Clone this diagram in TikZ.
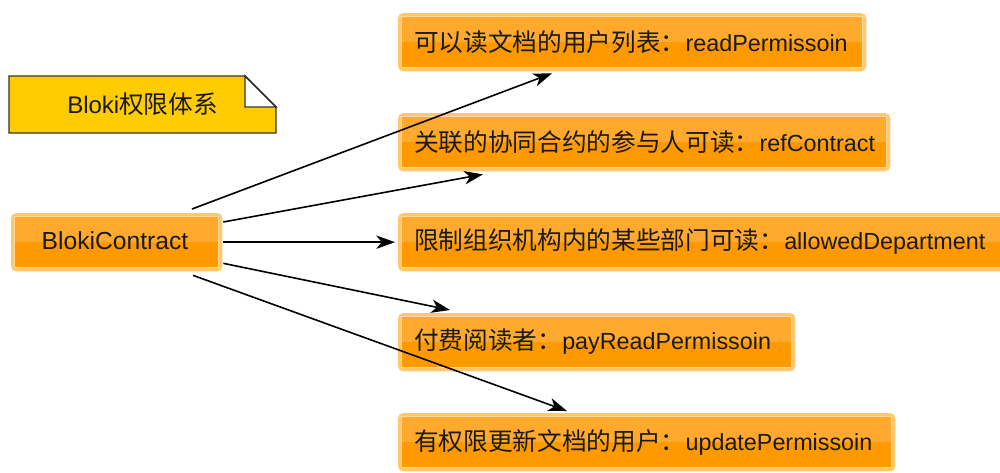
\documentclass[tikz,border=0pt]{standalone}
\usepackage{fontspec}
\setmainfont{Liberation Sans}
\newfontfamily\cjkf{Noto Sans CJK SC}
\newcommand{\cjk}{\cjkf\fontsize{18.5}{20}\selectfont}
\usetikzlibrary{arrows.meta,calc}
\definecolor{orB}{HTML}{FF9900}
\definecolor{orT}{HTML}{FFAA2E}
\definecolor{glow}{HTML}{FFC870}
\definecolor{inner}{HTML}{FFD9A0}
\definecolor{noteY}{HTML}{FFCC00}
\tikzset{
  obox/.style={anchor=north west, inner sep=0pt, draw=glow, line width=2.5pt,
    rounded corners=3pt, fill=orB,
    path picture={\fill[orT] (path picture bounding box.north west) rectangle (path picture bounding box.east);}},
  txt/.style={anchor=west, inner sep=0pt, font=\fontsize{17.5}{20}\selectfont, text=black!90},
  conn/.style={line width=1.2pt, -{Stealth[length=14pt,width=10pt,inset=4pt]}},
}
\newcommand{\innerline}[1]{\draw[inner, line width=0.8pt] ($(#1.north west)+(3.5,3.5)$) rectangle ($(#1.south east)+(-3.5,-3.5)$);}
\begin{document}
\begin{tikzpicture}[x=0.75pt,y=-0.75pt]
\useasboundingbox (0,0) rectangle (1000,472);
% note
\path[fill=noteY, draw=black!80, line width=1.1pt] (9,76) -- (245,76) -- (276,107) -- (276,133) -- (9,133) -- cycle;
\path[fill=white, draw=black!80, line width=1.1pt] (245,76) -- (245,107) -- (276,107) -- cycle;
\node[txt, font=\fontsize{18}{20}\selectfont] (notetxt) at (67,104) {Bloki{\cjk 权限体系}};
% boxes
\node[obox, minimum width=465*0.75pt, minimum height=55*0.75pt] (r1) at (398,13) {};
\node[obox, minimum width=489*0.75pt, minimum height=55*0.75pt] (r2) at (398,113) {};
\node[obox, minimum width=605*0.75pt, minimum height=55*0.75pt] (r3) at (398,213) {};
\node[obox, minimum width=394*0.75pt, minimum height=55*0.75pt] (r4) at (398,313) {};
\node[obox, minimum width=494*0.75pt, minimum height=55*0.75pt] (r5) at (398,413) {};
\node[obox, minimum width=208*0.75pt, minimum height=55*0.75pt] (bc) at (11,213) {};
\innerline{r1}\innerline{r2}\innerline{r3}\innerline{r4}\innerline{r5}\innerline{bc}
\node[txt] (t1) at (414,42) {{\cjk 可以读文档的用户列表：}readPermissoin};
\node[txt] (t2) at (414,142) {{\cjk 关联的协同合约的参与人可读：}refContract};
\node[txt] (t3) at (414,242) {{\cjk 限制组织机构内的某些部门可读：}allowedDepartment};
\node[txt] (t4) at (414,342) {{\cjk 付费阅读者：}payReadPermissoin};
\node[txt] (t5) at (414,442) {{\cjk 有权限更新文档的用户：}updatePermissoin};
\node[txt, anchor=center, font=\fontsize{18.5}{20}\selectfont] (t0) at (115,241) {BlokiContract};
% connectors
\draw[conn] ($(bc.north west)+(181,-4)$) -- ($(r1.south west)+(154,2)$);
\draw[conn] ($(bc.north east)+(1,9)$) -- ($(r2.south west)+(85,3)$);
\draw[conn] ($(bc.east)+(1,0)$) -- ($(r3.west)+(-3,0)$);
\draw[conn] ($(bc.south east)+(1,-8)$) -- ($(r4.north west)+(52,-3)$);
\draw[conn] ($(bc.south west)+(182,4)$) -- ($(r5.north west)+(169,-2)$);
\end{tikzpicture}
\end{document}
